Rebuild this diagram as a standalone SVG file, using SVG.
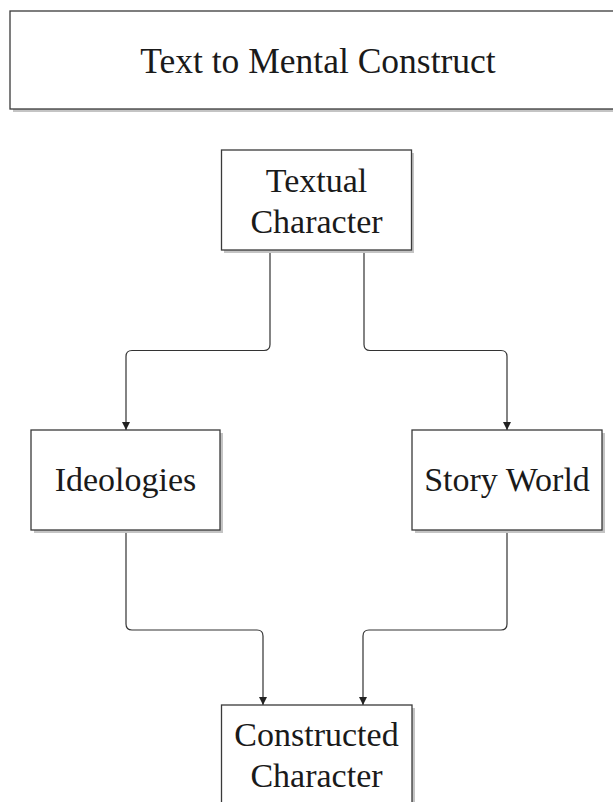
<svg xmlns="http://www.w3.org/2000/svg" width="613" height="802" viewBox="0 0 613 802">
  <defs>
    <style>
      .box { fill: #ffffff; stroke: #3a3a3a; stroke-width: 1.3; }
      .shadow { fill: #c4c4c4; }
      .label { font-family: "Liberation Serif", "Times New Roman", serif; font-size: 34px; fill: #1a1a1a; text-anchor: middle; }
      .title { font-size: 35.5px; }
      .conn { fill: none; stroke: #333333; stroke-width: 1.2; }
    </style>
    <marker id="arrow" viewBox="0 0 10 10" refX="10" refY="5" markerWidth="8" markerHeight="8" markerUnits="userSpaceOnUse" orient="auto">
      <path d="M0,0 L10,5 L0,10 z" fill="#222222"/>
    </marker>
  </defs>
  <rect width="613" height="802" fill="#ffffff"/>

  <g id="title">
    <rect class="shadow" x="13" y="14" width="620" height="98"/>
    <rect class="box" x="10" y="11" width="620" height="98"/>
    <text class="label title" x="318" y="72.5">Text to Mental Construct</text>
  </g>

  <g id="connectors">
    <path class="conn" d="M270,250 V344.5 Q270,350.5 264,350.5 H132 Q126,350.5 126,356.5 V430" marker-end="url(#arrow)"/>
    <path class="conn" d="M364,250 V344.5 Q364,350.5 370,350.5 H501 Q507,350.5 507,356.5 V430" marker-end="url(#arrow)"/>
    <path class="conn" d="M126,530 V624 Q126,630 132,630 H257 Q263,630 263,636 V705" marker-end="url(#arrow)"/>
    <path class="conn" d="M507,530 V624 Q507,630 501,630 H369 Q363,630 363,636 V705" marker-end="url(#arrow)"/>
  </g>

  <g id="textual-character">
    <rect class="shadow" x="224" y="153" width="190" height="100"/>
    <rect class="box" x="221.5" y="150" width="190" height="100"/>
    <text class="label" x="316.5" y="192">Textual</text>
    <text class="label" x="316.5" y="233">Character</text>
  </g>

  <g id="ideologies">
    <rect class="shadow" x="34" y="433" width="189" height="100"/>
    <rect class="box" x="31" y="430" width="189" height="100"/>
    <text class="label" x="125.5" y="491">Ideologies</text>
  </g>

  <g id="story-world">
    <rect class="shadow" x="415" y="433" width="190" height="100"/>
    <rect class="box" x="412" y="430" width="190" height="100"/>
    <text class="label" x="507" y="491">Story World</text>
  </g>

  <g id="constructed-character">
    <rect class="shadow" x="224" y="708" width="191" height="110"/>
    <rect class="box" x="221.5" y="705" width="190.5" height="110"/>
    <text class="label" x="316.5" y="746">Constructed</text>
    <text class="label" x="316.5" y="787">Character</text>
  </g>
</svg>
